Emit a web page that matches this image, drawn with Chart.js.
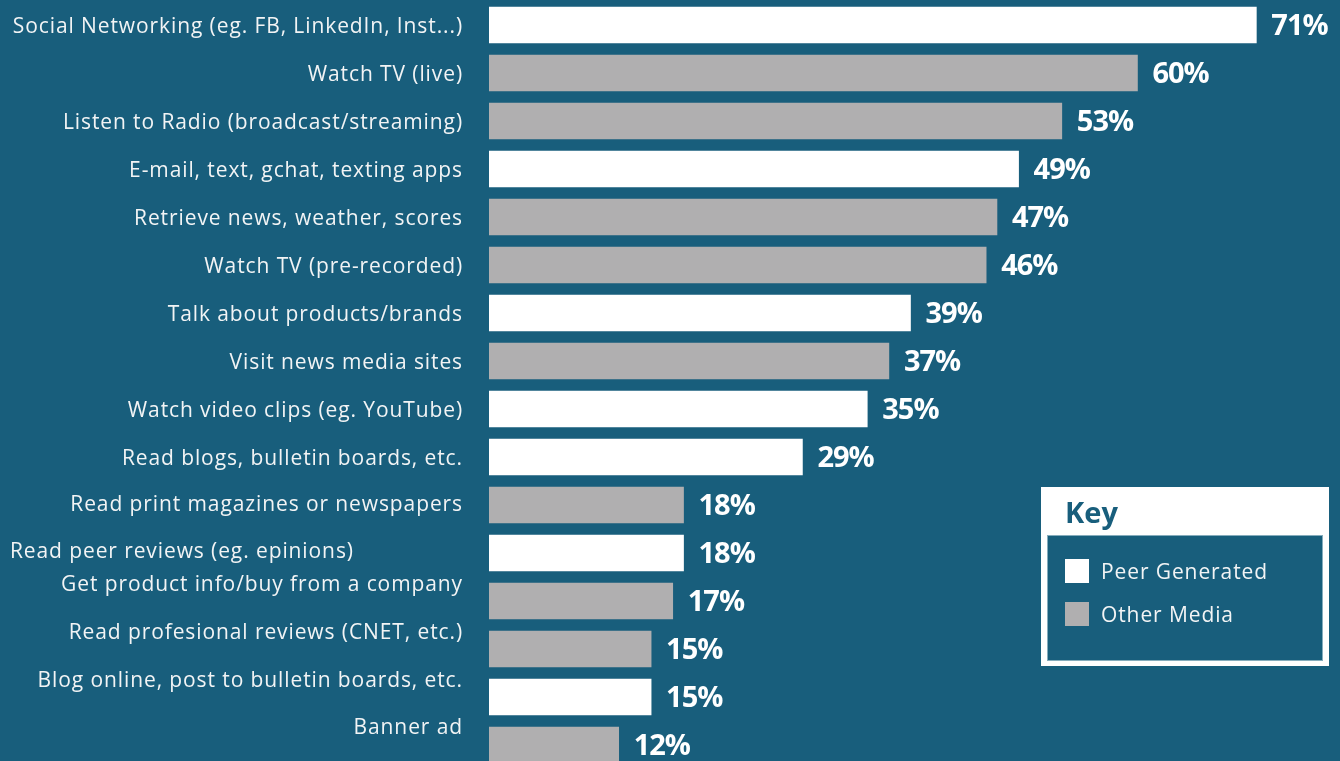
<!DOCTYPE html>
<html>
<head>
<meta charset="utf-8">
<script src="https://cdn.jsdelivr.net/npm/chart.js@4"></script>
<style>
  html, body { margin: 0; padding: 0; background: #185e7c; overflow: hidden; }
  #wrap { position: relative; width: 1340px; height: 780px; }
</style>
</head>
<body>
<div id="wrap"><canvas id="chart"></canvas></div>
<script>
const categories = [
  "Social Networking (eg. FB, LinkedIn, Inst...)",
  "Watch TV (live)",
  "Listen to Radio (broadcast/streaming)",
  "E-mail, text, gchat, texting apps",
  "Retrieve news, weather, scores",
  "Watch TV (pre-recorded)",
  "Talk about products/brands",
  "Visit news media sites",
  "Watch video clips (eg. YouTube)",
  "Read blogs, bulletin boards, etc.",
  "Read print magazines or newspapers",
  "Read peer reviews (eg. epinions)",
  "Get product info/buy from a company",
  "Read profesional reviews (CNET, etc.)",
  "Blog online, post to bulletin boards, etc.",
  "Banner ad"
];
const peerGenerated = [71, null, null, 49, null, null, 39, null, 35, 29, null, 18, null, null, 15, null];
const otherMedia = [null, 60, 53, null, 47, 46, null, 37, null, null, 18, null, 17, 15, null, 12];

// label nudges (vertical px) and alignment for the left-hand category text
const labelNudge = [2, 2, 2, 2, 2, 2, 2, 2, 2, 2, 0, -1, -16, -16, -16, -17];
const labelLeft = [11];

const BG = "#185e7c";
const WHITE = "#ffffff";
const GREY = "#b0afb0";
const TEXT = "#f2f4f5";
const LABEL_FONT = "21px 'Open Sans'";

const categoryLabels = {
  id: "categoryLabels",
  afterDraw(chart) {
    const { ctx, scales } = chart;
    ctx.save();
    ctx.font = LABEL_FONT;
    ctx.letterSpacing = "0.9px";
    ctx.fillStyle = TEXT;
    ctx.textBaseline = "middle";
    categories.forEach((c, i) => {
      const y = scales.y.getPixelForValue(i) + labelNudge[i];
      if (labelLeft.includes(i)) {
        ctx.textAlign = "left";
        ctx.fillText(c, 10, y);
      } else {
        ctx.textAlign = "right";
        ctx.fillText(c, 463, y);
      }
    });
    ctx.restore();
  }
};

const valueLabels = {
  id: "valueLabels",
  afterDatasetsDraw(chart) {
    const { ctx } = chart;
    ctx.save();
    ctx.font = "bold 29px 'Open Sans'";
    ctx.letterSpacing = "-1px";
    ctx.fillStyle = WHITE;
    ctx.textAlign = "left";
    ctx.textBaseline = "middle";
    chart.data.datasets.forEach((ds, di) => {
      chart.getDatasetMeta(di).data.forEach((bar, i) => {
        const v = ds.data[i];
        if (v == null) return;
        ctx.fillText(v + "%", bar.x + 15, bar.y + 2);
      });
    });
    ctx.restore();
  }
};

const keyBox = {
  id: "keyBox",
  afterDraw(chart) {
    const { ctx } = chart;
    const x = 1041, y = 487, w = 288, h = 179;
    ctx.save();
    ctx.fillStyle = WHITE;
    ctx.fillRect(x, y, w, h);
    ctx.fillStyle = BG;
    ctx.fillRect(x + 6, y + 48, w - 12, h - 53);
    ctx.strokeStyle = "rgba(180,205,215,0.7)";
    ctx.lineWidth = 1;
    ctx.strokeRect(x + 6.5, y + 48.5, w - 13, h - 54);
    ctx.fillStyle = BG;
    ctx.font = "bold 29px 'Open Sans'";
    ctx.textBaseline = "alphabetic";
    ctx.fillText("Key", x + 24, y + 36);
    ctx.font = LABEL_FONT;
    ctx.letterSpacing = "0.9px";
    ctx.textBaseline = "middle";
    chart.data.datasets.forEach((ds, i) => {
      const cy = y + 84 + i * 43;
      ctx.fillStyle = ds.backgroundColor;
      ctx.fillRect(x + 24, cy - 12, 24, 24);
      ctx.fillStyle = TEXT;
      ctx.fillText(ds.label, x + 60, cy + 2);
    });
    ctx.restore();
  }
};

new Chart(document.getElementById("chart"), {
  type: "bar",
  data: {
    labels: categories,
    datasets: [
      { label: "Peer Generated", data: peerGenerated, backgroundColor: WHITE },
      { label: "Other Media", data: otherMedia, backgroundColor: GREY }
    ]
  },
  options: {
    indexAxis: "y",
    responsive: true,
    maintainAspectRatio: false,
    animation: false,
    layout: { padding: { left: 489, right: 8, top: 1, bottom: 11 } },
    datasets: { bar: { barThickness: 36, borderWidth: 0 } },
    scales: {
      x: { min: 0, max: 78, stacked: true, display: false },
      y: { stacked: true, display: false, offset: true }
    },
    plugins: { legend: { display: false }, tooltip: { enabled: false } }
  },
  plugins: [categoryLabels, valueLabels, keyBox]
});
</script>
</body>
</html>
